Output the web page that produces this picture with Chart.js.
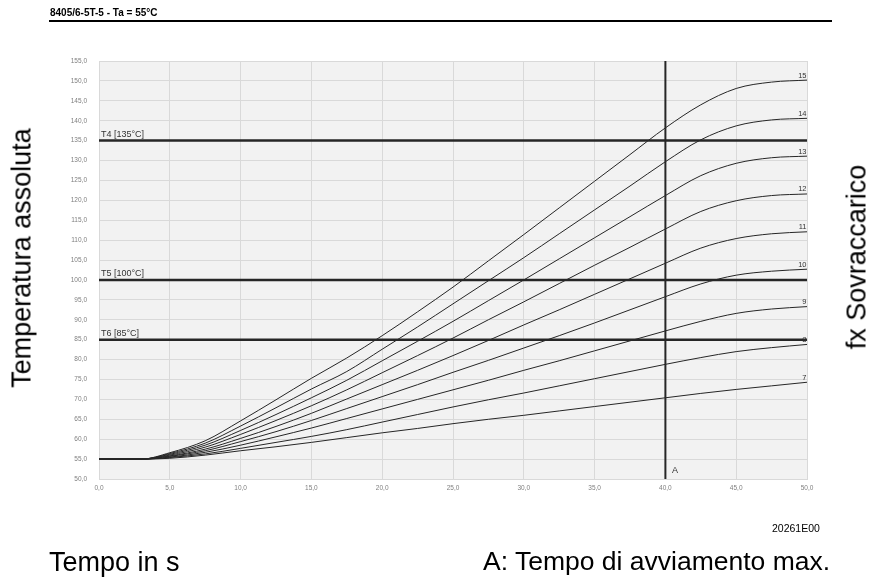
<!DOCTYPE html>
<html lang="it">
<head>
<meta charset="utf-8">
<title>8405/6-5T-5 - Ta = 55°C</title>
<script src="https://cdn.jsdelivr.net/npm/chart.js@4.4.1/dist/chart.umd.min.js"></script>
<style>
  html, body { margin: 0; padding: 0; background: #fff; }
  body { width: 882px; height: 578px; position: relative; overflow: hidden;
         font-family: "Liberation Sans", Arial, sans-serif; color: #000; }
  #chart { position: absolute; left: 0; top: 0; }
  .txt { position: absolute; white-space: nowrap; }
  #head { left: 50px; top: 8px; font-size: 10px; line-height: 10px; font-weight: bold; }
  #rule { position: absolute; left: 49px; top: 20px; width: 783px; height: 2px; background: #000; }
  .big { font-size: 27px; line-height: 27px; }
  .rot { transform: translate(-50%, -50%) rotate(-90deg); }
  #ytitle { left: 22px; top: 258px; }
  #rtitle { left: 857px; top: 257px; }
  #xtitle { left: 49px; top: 549px; }
  #anote  { left: 483px; top: 548px; font-size: 26.5px; line-height: 26.5px; }
  #code   { left: 772px; top: 523px; font-size: 10.5px; line-height: 10.5px; }
</style>
</head>
<body>
<canvas id="chart" width="882" height="578"></canvas>
<div class="txt" id="head">8405/6-5T-5 - Ta = 55°C</div>
<div id="rule"></div>
<div class="txt big rot" id="ytitle">Temperatura assoluta</div>
<div class="txt big rot" id="rtitle">fx Sovraccarico</div>
<div class="txt big" id="xtitle">Tempo in s</div>
<div class="txt" id="anote">A: Tempo di avviamento max.</div>
<div class="txt" id="code">20261E00</div>

<script>
'use strict';

// ── Data ───────────────────────────────────────────────────────────────────
const TIME = [0, 3, 5, 7.5, 10, 12.5, 15, 17.5, 20, 22.5, 25, 27.5, 30, 32.5, 35, 37.5, 40, 42.5, 45, 47.5, 50];

const T_15 = [55, 55, 56.6, 59.6, 64.6, 69.9, 75.3, 80.4, 86.0, 92.0, 98.2, 104.8, 111.4, 118.1, 124.8, 131.5, 138.2, 144.0, 148.1, 149.7, 150.2];
const T_14 = [55, 55, 56.4, 59.0, 63.3, 67.9, 72.6, 77.0, 82.6, 88.2, 94.0, 99.8, 105.6, 111.6, 117.6, 123.6, 129.7, 135.2, 138.7, 140.2, 140.6];
const T_13 = [55, 55, 56.2, 58.5, 62.2, 66.2, 70.4, 74.8, 79.7, 84.6, 89.6, 94.8, 100.0, 105.3, 110.6, 115.9, 121.2, 126.2, 129.3, 130.7, 131.1];
const T_12 = [55, 55, 56.0, 58.0, 61.2, 64.7, 68.4, 72.4, 76.7, 81.0, 85.4, 90.0, 94.5, 99.1, 103.7, 108.2, 112.8, 117.2, 119.9, 121.2, 121.6];
const T_11 = [55, 55, 55.8, 57.5, 60.2, 63.2, 66.5, 70.1, 73.7, 77.3, 81.0, 84.8, 88.7, 92.5, 96.4, 100.3, 104.2, 108.0, 110.4, 111.6, 112.1];
const T_10 = [55, 55, 55.7, 57.1, 59.4, 61.9, 64.7, 67.7, 70.7, 73.7, 76.8, 79.8, 82.9, 86.0, 89.2, 92.5, 95.8, 99.0, 101.2, 102.2, 102.7];
const T_9  = [55, 55, 55.5, 56.7, 58.5, 60.6, 62.8, 65.2, 67.6, 70.0, 72.4, 74.8, 77.3, 79.7, 82.2, 84.7, 87.2, 89.6, 91.6, 92.7, 93.3];
const T_8  = [55, 55, 55.4, 56.3, 57.7, 59.2, 60.7, 62.4, 64.3, 66.2, 68.1, 69.9, 71.6, 73.4, 75.2, 77.0, 78.8, 80.5, 82.0, 83.0, 83.8];
const T_7  = [55, 55, 55.2, 56.0, 57.1, 58.1, 59.2, 60.4, 61.6, 62.7, 63.9, 65.0, 66.0, 67.1, 68.2, 69.3, 70.4, 71.5, 72.5, 73.4, 74.3];

const OVERLOAD = ['15', '14', '13', '12', '11', '10', '9', '8', '7'];
const CURVES   = [T_15, T_14, T_13, T_12, T_11, T_10, T_9, T_8, T_7];

const CLASS_LIMITS = [135, 100, 85];
const CLASS_LABELS = ['T4 [135°C]', 'T5 [100°C]', 'T6 [85°C]'];

const START_TIME  = 40;
const START_LABEL = 'A';

const X_MIN = 0, X_MAX = 50, X_STEP = 5;
const Y_MIN = 50, Y_MAX = 155, Y_STEP = 5;

// ── Look ───────────────────────────────────────────────────────────────────
const INK   = '#262626';
const GRID  = '#d9d9d9';
const PANEL = '#f2f2f2';
const TICK  = '#7f7f7f';
const FONT  = '"Liberation Sans", Arial, sans-serif';

const comma = v => Number(v).toFixed(1).replace('.', ',');

// ── Datasets ───────────────────────────────────────────────────────────────
const datasets = [];

CURVES.forEach((vals, i) => {
  datasets.push({
    label: OVERLOAD[i],
    kind: 'curve',
    data: TIME.map((t, k) => ({ x: t, y: vals[k] })),
    borderColor: INK,
    borderWidth: 1,
    pointRadius: 0,
    cubicInterpolationMode: 'monotone',
  });
});

CLASS_LIMITS.forEach((lim, i) => {
  datasets.push({
    label: CLASS_LABELS[i],
    kind: 'limit',
    data: [{ x: X_MIN, y: lim }, { x: X_MAX, y: lim }],
    borderColor: INK,
    borderWidth: 2.5,
    pointRadius: 0,
  });
});

datasets.push({
  label: START_LABEL,
  kind: 'start',
  data: [{ x: START_TIME, y: Y_MIN }, { x: START_TIME, y: Y_MAX }],
  borderColor: INK,
  borderWidth: 2,
  pointRadius: 0,
});

// ── Plugins ────────────────────────────────────────────────────────────────
const panelBg = {
  id: 'panelBg',
  beforeDraw(chart) {
    const { ctx, chartArea: a } = chart;
    ctx.save();
    ctx.fillStyle = PANEL;
    ctx.fillRect(a.left, a.top, a.right - a.left, a.bottom - a.top);
    ctx.restore();
  },
};

const markLabels = {
  id: 'markLabels',
  afterDatasetsDraw(chart) {
    const { ctx, scales: { x, y } } = chart;
    ctx.save();
    ctx.fillStyle = '#333';
    ctx.textBaseline = 'alphabetic';

    // overload factor at the right end of each curve
    ctx.font = `7.5px ${FONT}`;
    ctx.textAlign = 'right';
    CURVES.forEach((vals, i) => {
      ctx.fillText(OVERLOAD[i], x.getPixelForValue(X_MAX) - 0.5, y.getPixelForValue(vals[vals.length - 1]) - 2.5);
    });

    // temperature classes
    ctx.font = `9px ${FONT}`;
    ctx.textAlign = 'left';
    CLASS_LIMITS.forEach((lim, i) => {
      ctx.fillText(CLASS_LABELS[i], x.getPixelForValue(X_MIN) + 2, y.getPixelForValue(lim) - 3.5);
    });

    // start time marker
    ctx.fillText(START_LABEL, x.getPixelForValue(START_TIME) + 6.5, y.getPixelForValue(Y_MIN) - 6.5);
    ctx.restore();
  },
};

// ── Chart ──────────────────────────────────────────────────────────────────
new Chart(document.getElementById('chart'), {
  type: 'line',
  data: { datasets },
  plugins: [panelBg, markLabels],
  options: {
    responsive: false,
    animation: false,
    events: [],
    layout: { padding: { left: 49, right: 75, top: 61, bottom: 79 } },
    plugins: { legend: { display: false }, tooltip: { enabled: false } },
    scales: {
      x: {
        type: 'linear',
        min: X_MIN, max: X_MAX,
        afterFit: s => { s.height = 20; },
        grid: { color: GRID, lineWidth: 1, drawTicks: false },
        border: { color: GRID },
        ticks: {
          stepSize: X_STEP, padding: 5, color: TICK,
          font: { family: FONT, size: 6.5 },
          maxRotation: 0, callback: comma,
        },
      },
      y: {
        type: 'linear',
        min: Y_MIN, max: Y_MAX,
        afterFit: s => { s.width = 50; },
        grid: { color: GRID, lineWidth: 1, drawTicks: false },
        border: { color: GRID },
        ticks: {
          stepSize: Y_STEP, padding: 12, color: TICK,
          font: { family: FONT, size: 6.5 },
          callback: comma,
        },
      },
    },
  },
});
</script>
</body>
</html>
